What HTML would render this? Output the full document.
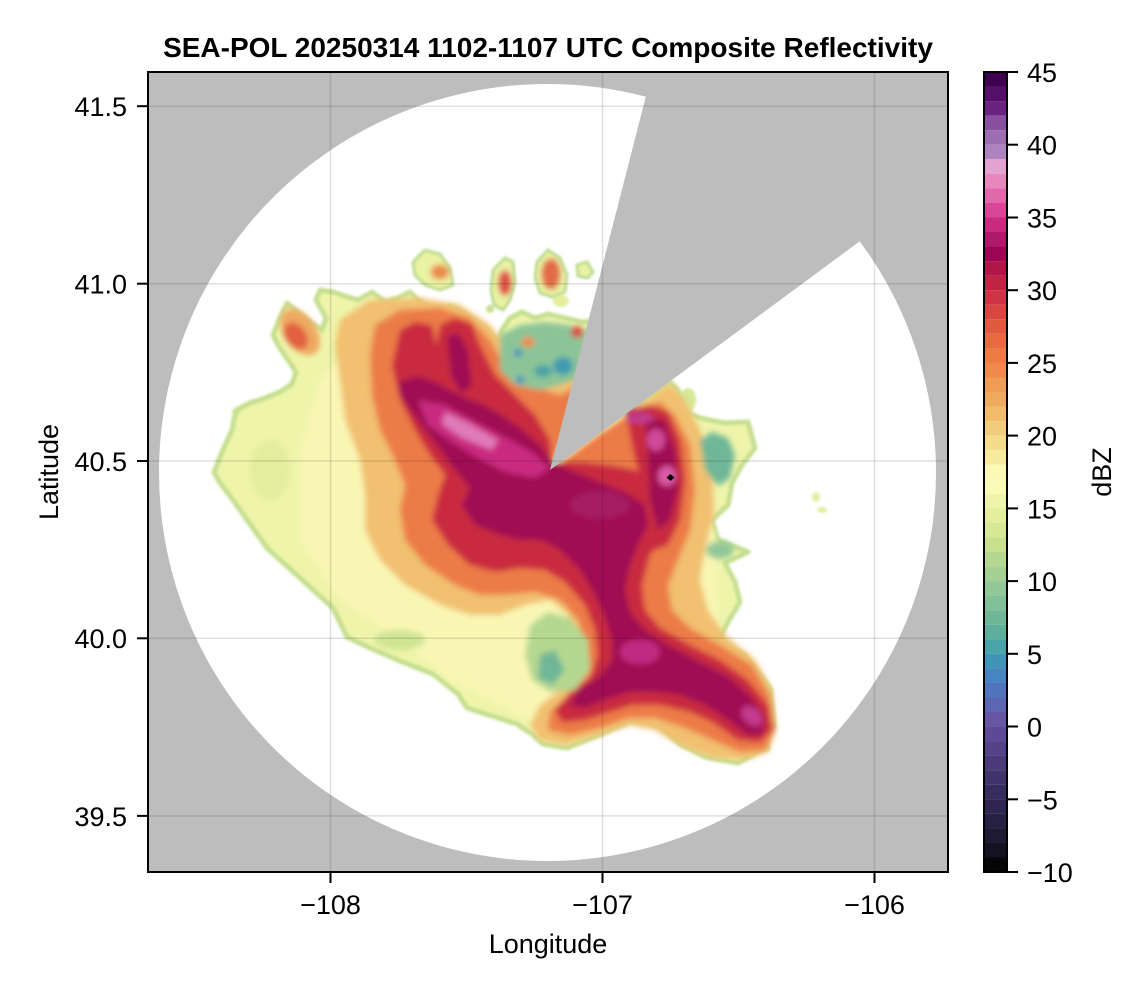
<!DOCTYPE html>
<html><head><meta charset="utf-8"><style>
html,body{margin:0;padding:0;background:#fff;}
svg{display:block;}
text{font-family:"Liberation Sans",Arial,sans-serif;fill:#000;}
</style></head><body>
<svg width="1146" height="990" viewBox="0 0 1146 990" xmlns="http://www.w3.org/2000/svg">
<defs>
<clipPath id="pc"><rect x="148" y="72" width="800" height="800"/></clipPath>
<filter id="b" x="-10%" y="-10%" width="120%" height="120%"><feGaussianBlur stdDeviation="3"/></filter>
<filter id="b2" x="-10%" y="-10%" width="120%" height="120%"><feGaussianBlur stdDeviation="1.2"/></filter>
</defs>
<rect width="1146" height="990" fill="#fff"/>
<g clip-path="url(#pc)">
<rect x="148" y="72" width="800" height="800" fill="#bdbdbd"/>
<circle cx="547.5" cy="472.5" r="388.5" fill="#fff"/>

<!-- envelope -->
<g filter="url(#b2)">
<polygon fill="#eef4aa" stroke="#c6df90" stroke-width="5" stroke-linejoin="round" points="214,472 222,452 232,430 236,410 250,403 265,398 280,392 292,384 296,372 288,360 278,345 273,335 280,318 287,303 298,312 310,322 322,330 326,318 316,300 320,290 333,292 345,296 358,300 372,292 385,302 398,298 410,292 418,300 432,310 452,306 468,316 485,328 497,342 502,330 510,318 522,312 535,318 548,314 565,318 582,322 592,321 550,470 670,382 678,390 682,410 700,418 725,423 748,422 755,448 742,465 732,483 728,505 712,520 718,540 748,552 725,563 735,582 740,602 728,622 718,642 745,655 770,688 774,726 765,735 768,748 757,752 738,763 705,757 680,744 658,725 633,720 604,733 567,748 543,744 532,734 517,724 492,716 467,708 458,694 433,674 400,661 370,648 347,637 333,608 300,578 267,548 250,524 233,500 220,483"/>
<polygon fill="#eaf2a4" stroke="#bcdb90" stroke-width="3" points="413,262 425,250 440,254 450,268 453,285 440,290 425,285 415,275"/>
<polygon fill="#eaf2a4" stroke="#bcdb90" stroke-width="3" points="537,262 548,250 560,258 567,275 565,292 552,297 540,293 535,278"/>
<polygon fill="#eaf2a4" stroke="#bcdb90" stroke-width="3" points="577,265 587,262 593,272 588,278 578,276"/>
<polygon fill="#eaf2a4" stroke="#bcdb90" stroke-width="3" points="493,270 505,258 513,262 515,282 510,300 503,310 494,305 491,290"/>
<ellipse cx="561" cy="301" rx="8" ry="6" fill="#e4ef9e"/>
<ellipse cx="490" cy="309" rx="4" ry="4" fill="#c8e08e"/>
<ellipse cx="688" cy="400" rx="8" ry="12" fill="#d7e896"/>
<ellipse cx="816" cy="497" rx="4" ry="5" fill="#e4ef9e"/>
<ellipse cx="822" cy="510" rx="5" ry="3" fill="#e4ef9e"/>
<ellipse cx="236" cy="412" rx="4" ry="3" fill="#c8e08e"/>
</g>

<g filter="url(#b)">
<polygon fill="#f9f6b4" points="300,450 320,380 360,340 420,320 520,360 560,400 640,420 700,460 715,540 720,640 760,700 760,740 700,745 640,715 560,735 500,705 450,680 400,640 340,600 300,540"/>
<ellipse cx="440" cy="272" rx="9" ry="7" fill="#ec8a4c"/>
<ellipse cx="551" cy="274" rx="9" ry="15" fill="#e26a44"/>
<ellipse cx="505" cy="283" rx="6" ry="12" fill="#dc5042"/>
<ellipse cx="300" cy="332" rx="16" ry="26" fill="#f0a860" transform="rotate(-35 300 332)"/>
<ellipse cx="296" cy="336" rx="10" ry="15" fill="#e0603f" transform="rotate(-35 296 336)"/>
<!-- light orange -->
<polygon fill="#f1c070" points="340,320 370,300 420,298 460,305 490,325 505,345 530,340 560,340 592,335 550,470 670,383 685,400 700,430 712,470 714,515 705,550 700,580 708,610 725,635 755,660 772,690 776,730 768,752 745,760 712,758 682,746 655,730 630,725 600,735 565,745 540,740 530,725 540,705 560,690 575,665 578,640 568,615 550,600 525,605 500,615 470,615 440,605 405,585 380,560 365,530 365,495 360,460 345,420 340,380 335,345"/>
<!-- orange -->
<polygon fill="#ec7c46" points="375,325 400,310 440,308 470,318 490,340 505,365 530,385 560,395 590,380 550,470 600,433 635,410 660,402 675,415 690,445 695,490 690,530 678,560 668,585 672,610 690,628 720,645 752,665 770,695 775,730 765,750 740,752 712,740 685,728 655,718 628,718 600,728 570,735 548,730 550,712 568,695 580,670 585,645 578,620 560,600 535,592 505,595 480,595 455,585 425,565 405,540 400,510 405,485 395,460 380,430 372,395 370,355"/>
<!-- red -->
<polygon fill="#c92a40" points="400,330 415,322 432,325 436,345 440,325 455,318 472,324 480,345 495,375 515,395 535,415 550,440 552,462 580,462 610,465 635,470 655,485 665,510 665,535 650,555 642,585 645,610 660,628 690,645 720,660 748,680 768,705 772,730 760,742 738,740 712,722 690,712 660,705 632,705 610,712 585,720 562,722 555,710 570,692 590,678 598,655 595,630 585,605 565,582 545,570 520,568 495,572 470,565 448,545 432,520 438,495 445,475 430,455 415,430 400,400 392,365"/>
<polygon fill="#c92a40" points="625,410 650,405 668,412 680,440 685,480 680,520 668,545 655,550 645,520 640,480 632,445"/>
<!-- crimson core -->
<polygon fill="#a00a52" points="398,382 418,376 435,382 450,390 466,398 482,404 500,414 520,428 540,445 552,462 575,472 600,482 625,492 645,505 648,525 638,545 630,565 625,590 630,612 645,630 668,645 700,662 728,676 750,695 765,718 762,735 748,735 728,720 705,705 680,695 655,692 630,692 605,700 585,708 570,706 578,690 600,676 612,660 612,640 605,618 595,595 580,570 560,550 540,540 520,540 500,535 475,525 462,505 470,488 455,470 440,450 425,430 410,410 400,395"/>
<polygon fill="#a00a52" points="447,336 458,333 468,350 472,385 462,394 451,376"/>
<polygon fill="#a00a52" points="645,418 665,420 675,450 678,490 670,520 658,530 650,500 648,460"/>
<!-- magenta / pink highlights -->
<polygon fill="#c92a80" points="418,400 445,405 472,420 502,436 532,452 550,468 535,478 505,472 478,458 452,442 428,425"/>
<polygon fill="#e07ab8" points="445,412 470,424 498,440 492,450 462,438 442,424"/>
<ellipse cx="656" cy="440" rx="9" ry="11" fill="#d04a9a"/>
<ellipse cx="667" cy="476" rx="9" ry="10" fill="#d85aa5"/>
<ellipse cx="640" cy="418" rx="14" ry="6" fill="#c03a8a"/>
<ellipse cx="640" cy="652" rx="20" ry="12" fill="#c22a82"/>
<ellipse cx="752" cy="716" rx="12" ry="8" fill="#c43a8e" transform="rotate(40 752 716)"/>
<ellipse cx="600" cy="505" rx="30" ry="14" fill="#a51a64"/>
<!-- green / teal areas -->
<polygon fill="#8cc497" points="500,335 520,325 545,322 570,325 588,330 580,378 560,385 540,390 515,385 500,370"/>
<ellipse cx="563" cy="366" rx="10" ry="9" fill="#3f9bb0"/>
<ellipse cx="543" cy="371" rx="9" ry="6" fill="#4aa3a8"/>
<ellipse cx="518" cy="353" rx="4" ry="4" fill="#3f8fc0"/>
<ellipse cx="520" cy="380" rx="4" ry="4" fill="#3f8fc0"/>
<ellipse cx="528" cy="342" rx="7" ry="5" fill="#ec8a4c"/>
<ellipse cx="577" cy="332" rx="6" ry="6" fill="#d84a44"/>
<polygon fill="#6fb797" points="700,440 712,432 728,438 735,455 730,478 718,486 705,470"/>
<ellipse cx="720" cy="550" rx="14" ry="9" fill="#92c897"/>
<polygon fill="#b5d890" points="530,625 548,612 570,618 588,640 590,670 575,690 550,692 532,680 525,655"/>
<polygon fill="#6fb797" points="540,655 555,650 565,670 552,685 538,678"/>
<ellipse cx="270" cy="470" rx="20" ry="30" fill="#e2ee9c"/>
<ellipse cx="400" cy="640" rx="25" ry="10" fill="#cfe494"/>
</g>
<polygon points="670.5,474 674.5,477.5 670.5,481 666.5,477.5" fill="#000"/>

<polygon fill="#bdbdbd" points="550,470 704,-130 1200,-130 1200,-10"/>
<g stroke="#000" stroke-opacity="0.12" stroke-width="1.5">
<line x1="330.5" y1="72" x2="330.5" y2="872"/>
<line x1="602.5" y1="72" x2="602.5" y2="872"/>
<line x1="874.5" y1="72" x2="874.5" y2="872"/>
<line x1="148" y1="106.2" x2="948" y2="106.2"/>
<line x1="148" y1="283.7" x2="948" y2="283.7"/>
<line x1="148" y1="461" x2="948" y2="461"/>
<line x1="148" y1="638.3" x2="948" y2="638.3"/>
<line x1="148" y1="815.9" x2="948" y2="815.9"/>
</g>
</g>
<rect x="148" y="72" width="800" height="800" fill="none" stroke="#000" stroke-width="2"/>

<g stroke="#000" stroke-width="2">
<line x1="330.5" y1="872" x2="330.5" y2="883"/>
<line x1="602.5" y1="872" x2="602.5" y2="883"/>
<line x1="874.5" y1="872" x2="874.5" y2="883"/>
<line x1="137" y1="106.2" x2="148" y2="106.2"/>
<line x1="137" y1="283.7" x2="148" y2="283.7"/>
<line x1="137" y1="461" x2="148" y2="461"/>
<line x1="137" y1="638.3" x2="148" y2="638.3"/>
<line x1="137" y1="815.9" x2="148" y2="815.9"/>
</g>
<g font-size="27">
<text x="330.5" y="914" text-anchor="middle">−108</text>
<text x="602.5" y="914" text-anchor="middle">−107</text>
<text x="874.5" y="914" text-anchor="middle">−106</text>
<text x="127" y="116" text-anchor="end">41.5</text>
<text x="127" y="293.5" text-anchor="end">41.0</text>
<text x="127" y="471" text-anchor="end">40.5</text>
<text x="127" y="648" text-anchor="end">40.0</text>
<text x="127" y="826" text-anchor="end">39.5</text>
<text x="548" y="953" text-anchor="middle">Longitude</text>
<text transform="translate(58,472) rotate(-90)" text-anchor="middle">Latitude</text>
<text transform="translate(1111,472) rotate(-90)" text-anchor="middle">dBZ</text>
</g>
<text x="548" y="57" text-anchor="middle" font-size="28" font-weight="bold">SEA-POL 20250314 1102-1107 UTC Composite Reflectivity</text>

<g>
<rect x="984" y="72.00" width="23" height="14.6" fill="#3f0050"/>
<rect x="984" y="86.55" width="23" height="14.6" fill="#541068"/>
<rect x="984" y="101.09" width="23" height="14.6" fill="#6a2380"/>
<rect x="984" y="115.64" width="23" height="14.6" fill="#8a50a0"/>
<rect x="984" y="130.18" width="23" height="14.6" fill="#9e6eb2"/>
<rect x="984" y="144.73" width="23" height="14.6" fill="#ae84c0"/>
<rect x="984" y="159.27" width="23" height="14.6" fill="#e2a2d2"/>
<rect x="984" y="173.82" width="23" height="14.6" fill="#e688bc"/>
<rect x="984" y="188.36" width="23" height="14.6" fill="#e268ac"/>
<rect x="984" y="202.91" width="23" height="14.6" fill="#d94597"/>
<rect x="984" y="217.45" width="23" height="14.6" fill="#c92a80"/>
<rect x="984" y="232.00" width="23" height="14.6" fill="#b0186c"/>
<rect x="984" y="246.55" width="23" height="14.6" fill="#9e0454"/>
<rect x="984" y="261.09" width="23" height="14.6" fill="#b01648"/>
<rect x="984" y="275.64" width="23" height="14.6" fill="#c02444"/>
<rect x="984" y="290.18" width="23" height="14.6" fill="#cd3446"/>
<rect x="984" y="304.73" width="23" height="14.6" fill="#d94642"/>
<rect x="984" y="319.27" width="23" height="14.6" fill="#e05a40"/>
<rect x="984" y="333.82" width="23" height="14.6" fill="#e86a40"/>
<rect x="984" y="348.36" width="23" height="14.6" fill="#ee7a44"/>
<rect x="984" y="362.91" width="23" height="14.6" fill="#ef8a4c"/>
<rect x="984" y="377.45" width="23" height="14.6" fill="#ee9c56"/>
<rect x="984" y="392.00" width="23" height="14.6" fill="#eeab60"/>
<rect x="984" y="406.55" width="23" height="14.6" fill="#f0bc6c"/>
<rect x="984" y="421.09" width="23" height="14.6" fill="#f1cc7c"/>
<rect x="984" y="435.64" width="23" height="14.6" fill="#f4dc8c"/>
<rect x="984" y="450.18" width="23" height="14.6" fill="#f7ea9e"/>
<rect x="984" y="464.73" width="23" height="14.6" fill="#fcf8b6"/>
<rect x="984" y="479.27" width="23" height="14.6" fill="#fbfbb8"/>
<rect x="984" y="493.82" width="23" height="14.6" fill="#eef4aa"/>
<rect x="984" y="508.36" width="23" height="14.6" fill="#e4ef9e"/>
<rect x="984" y="522.91" width="23" height="14.6" fill="#d7e896"/>
<rect x="984" y="537.45" width="23" height="14.6" fill="#c8e08e"/>
<rect x="984" y="552.00" width="23" height="14.6" fill="#b5d890"/>
<rect x="984" y="566.55" width="23" height="14.6" fill="#a4d094"/>
<rect x="984" y="581.09" width="23" height="14.6" fill="#92c897"/>
<rect x="984" y="595.64" width="23" height="14.6" fill="#82c098"/>
<rect x="984" y="610.18" width="23" height="14.6" fill="#6fb797"/>
<rect x="984" y="624.73" width="23" height="14.6" fill="#5dae9a"/>
<rect x="984" y="639.27" width="23" height="14.6" fill="#4aa3a8"/>
<rect x="984" y="653.82" width="23" height="14.6" fill="#3f94b8"/>
<rect x="984" y="668.36" width="23" height="14.6" fill="#4784c0"/>
<rect x="984" y="682.91" width="23" height="14.6" fill="#5274bc"/>
<rect x="984" y="697.45" width="23" height="14.6" fill="#5d66b0"/>
<rect x="984" y="712.00" width="23" height="14.6" fill="#6656a4"/>
<rect x="984" y="726.55" width="23" height="14.6" fill="#5d4a96"/>
<rect x="984" y="741.09" width="23" height="14.6" fill="#534288"/>
<rect x="984" y="755.64" width="23" height="14.6" fill="#4a3a7a"/>
<rect x="984" y="770.18" width="23" height="14.6" fill="#40336c"/>
<rect x="984" y="784.73" width="23" height="14.6" fill="#372c5e"/>
<rect x="984" y="799.27" width="23" height="14.6" fill="#2e2650"/>
<rect x="984" y="813.82" width="23" height="14.6" fill="#262042"/>
<rect x="984" y="828.36" width="23" height="14.6" fill="#1e1a34"/>
<rect x="984" y="842.91" width="23" height="14.6" fill="#141220"/>
<rect x="984" y="857.45" width="23" height="14.55" fill="#060606"/>
</g>
<rect x="984" y="72" width="23" height="800" fill="none" stroke="#000" stroke-width="2"/>
<g stroke="#000" stroke-width="2">
<line x1="1007" y1="72" x2="1018" y2="72"/>
<line x1="1007" y1="144.7" x2="1018" y2="144.7"/>
<line x1="1007" y1="217.5" x2="1018" y2="217.5"/>
<line x1="1007" y1="290.2" x2="1018" y2="290.2"/>
<line x1="1007" y1="362.9" x2="1018" y2="362.9"/>
<line x1="1007" y1="435.6" x2="1018" y2="435.6"/>
<line x1="1007" y1="508.4" x2="1018" y2="508.4"/>
<line x1="1007" y1="581.1" x2="1018" y2="581.1"/>
<line x1="1007" y1="653.8" x2="1018" y2="653.8"/>
<line x1="1007" y1="726.5" x2="1018" y2="726.5"/>
<line x1="1007" y1="799.3" x2="1018" y2="799.3"/>
<line x1="1007" y1="872" x2="1018" y2="872"/>
</g>
<g font-size="27">
<text x="1027" y="82">45</text>
<text x="1027" y="154.7">40</text>
<text x="1027" y="227.5">35</text>
<text x="1027" y="300.2">30</text>
<text x="1027" y="372.9">25</text>
<text x="1027" y="445.6">20</text>
<text x="1027" y="518.4">15</text>
<text x="1027" y="591.1">10</text>
<text x="1027" y="663.8">5</text>
<text x="1027" y="736.5">0</text>
<text x="1027" y="809.3">−5</text>
<text x="1027" y="882">−10</text>
</g>
</svg>
</body></html>
